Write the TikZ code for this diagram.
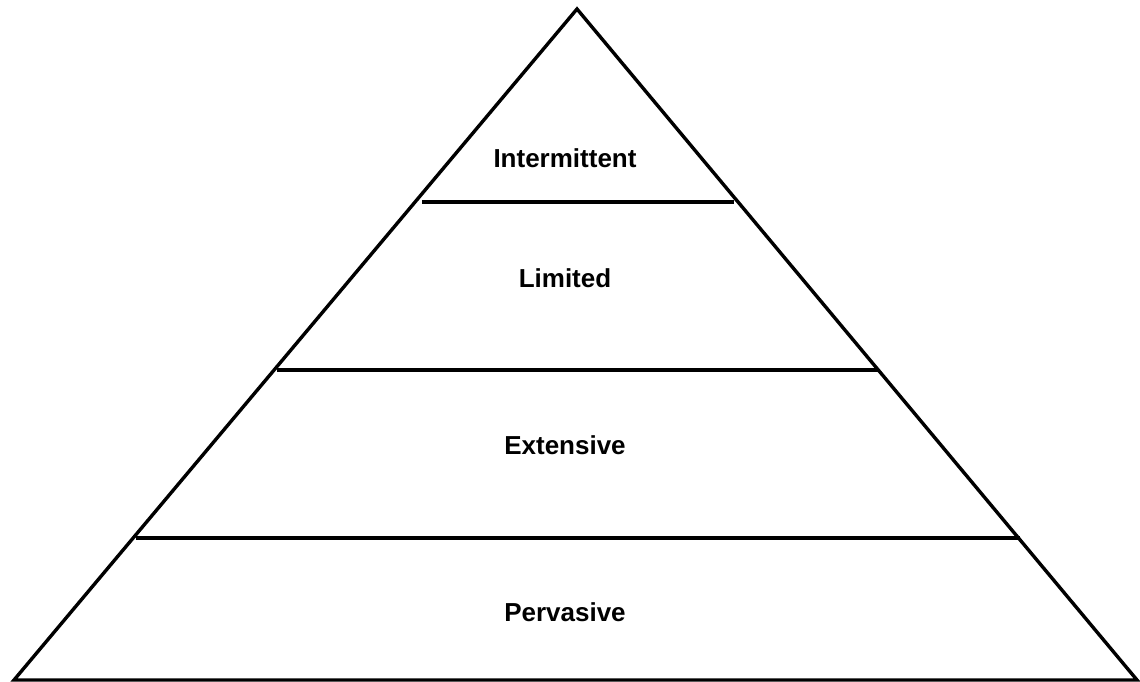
\documentclass[tikz,border=0pt]{standalone}
\usepackage{fontspec}
\setmainfont{Liberation Sans}

\begin{document}
\begin{tikzpicture}[x=1pt,y=-1pt,
    edge/.style ={line width=3.4pt, line join=miter},
    level/.style ={font=\fontsize{26}{31}\selectfont\bfseries}]
   \useasboundingbox (0,0) rectangle (1140,682);
   \coordinate (apex) at (577,9);
   \coordinate (L) at (14,680);
   \coordinate (R) at (1137,680);
   \coordinate (a1) at (422,202);
   \coordinate (b1) at (734,202);
   \coordinate (a2) at (277,370);
   \coordinate (b2) at (879,370);
   \coordinate (a3) at (136,538);
   \coordinate (b3) at (1020,538);
   \draw[edge] (L) -- (apex) -- (R) -- cycle;
   \draw[edge] (a1) to (b1);
   \draw[edge] (a2) to (b2);
   \draw[edge] (a3) to (b3);
   \node[level] (int) at (565,158) {Intermittent};
   \node[level] (lim) at (565,278) {Limited};
   \node[level] (ext) at (565,445) {Extensive};
   \node[level] (per) at (565,612) {Pervasive};
 \end{tikzpicture}
\end{document}
